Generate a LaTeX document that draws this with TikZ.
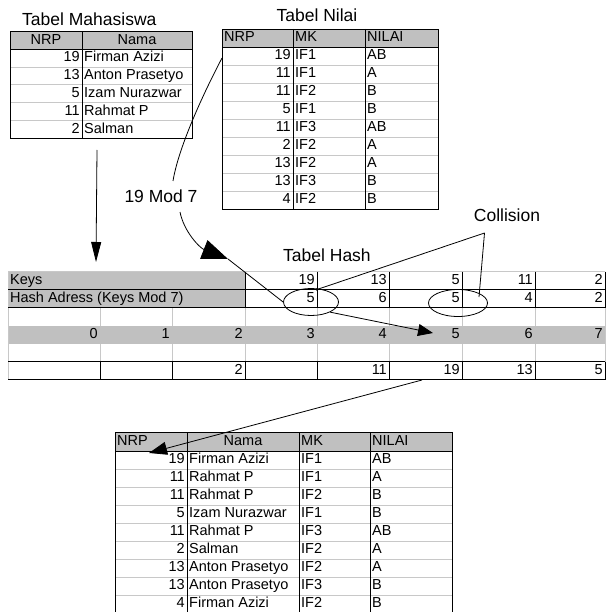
\documentclass[tikz,border=0pt]{standalone}
\usepackage{fontspec}
\setmainfont{Liberation Sans}
\usetikzlibrary{arrows.meta, shapes.geometric}

\definecolor{silver}{HTML}{C0C0C0}
\definecolor{gridgray}{HTML}{C8C8C8}

\tikzset{
    cell/.style={font=\fontsize{14.5}{16}\selectfont, inner sep=0pt, text height=10.2pt, text depth=2.9pt},
    title/.style={font=\fontsize{17.5}{19}\selectfont, inner sep=0pt},
    thinline/.style={draw=gridgray, line width=0.8pt},
    darkline/.style={draw=black, line width=0.8pt},
    link/.style={line width=0.8pt},
    ring/.style={ellipse, draw, line width=0.8pt, inner sep=0pt}
}

\begin{document}
\begin{tikzpicture}[x=1pt, y=-1pt]
    \useasboundingbox (0,0) rectangle (606,612);
    \clip (0,0) rectangle (606,612);

    % Tabel Mahasiswa
    \node[title, anchor=west] (mhs-title) at (22,19) {Tabel Mahasiswa};
    \fill[silver] (10,31.5) rectangle (192,49.3);
    \foreach \k in {1,...,4}
        \draw[thinline] (10,{49.3+17.8*\k}) -- (192,{49.3+17.8*\k});
    \draw[darkline] (10,31.5) rectangle (192,138.3);
    \draw[darkline] (10,49.3) -- (192,49.3) (82,31.5) -- (82,138.3);
    \node[cell] (mhs-h1) at (46,40.4) {NRP};
    \node[cell] (mhs-h2) at (137,40.4) {Nama};
    \foreach \nrp/\nama [count=\i] in {19/Firman Azizi, 13/Anton Prasetyo, 5/Izam Nurazwar, 11/Rahmat P, 2/Salman} {
        \node[cell, anchor=east] (mhs-\i-nrp) at (80,{40.4+17.8*\i}) {\nrp};
        \node[cell, anchor=west] (mhs-\i-nama) at (84,{40.4+17.8*\i}) {\nama};
    }

    % Tabel Nilai
    \node[title] (nil-title) at (317,15) {Tabel Nilai};
    \fill[silver] (222,29) rectangle (438,47);
    \foreach \k in {1,...,8}
        \draw[thinline] (222,{47+18*\k}) -- (438,{47+18*\k});
    \draw[darkline] (222,29) rectangle (438,209);
    \draw[darkline] (222,47) -- (438,47) (293,29) -- (293,209) (365,29) -- (365,209);
    \node[cell, anchor=west] (nil-h1) at (224,38) {NRP};
    \node[cell, anchor=west] (nil-h2) at (295,38) {MK};
    \node[cell, anchor=west] (nil-h3) at (367,38) {NILAI};
    \foreach \nrp/\mk/\nilai [count=\i] in {19/IF1/AB, 11/IF1/A, 11/IF2/B, 5/IF1/B, 11/IF3/AB, 2/IF2/A, 13/IF2/A, 13/IF3/B, 4/IF2/B} {
        \node[cell, anchor=east] (nil-\i-nrp) at (291,{38+18*\i}) {\nrp};
        \node[cell, anchor=west] (nil-\i-mk) at (295,{38+18*\i}) {\mk};
        \node[cell, anchor=west] (nil-\i-nilai) at (367,{38+18*\i}) {\nilai};
    }

    % Tabel Hash
    \node[title, anchor=west] (hash-title) at (283,255) {Tabel Hash};
    \fill[silver] (8,271.5) rectangle (245,307.5);
    \fill[silver] (8,325.5) rectangle (605,343.5);
    \draw[thinline] (8,271.5) -- (605,271.5) (8,271.5) -- (8,379.5) (605,307.5) -- (605,361.5);
    \foreach \x in {100,172,245,317,389,462,535}
        \draw[thinline] (\x,307.5) -- (\x,325.5) (\x,343.5) -- (\x,361.5);
    \draw[darkline] (8,289.5) -- (605,289.5) (8,307.5) -- (605,307.5);
    \foreach \x in {245,317,389,462,535,605}
        \draw[darkline] (\x,271.5) -- (\x,307.5);
    \draw[darkline] (8,361.5) -- (605,361.5) (8,379.5) -- (605,379.5);
    \foreach \x in {100,172,245,317,389,462,535,605}
        \draw[darkline] (\x,361.5) -- (\x,379.5);

    \node[cell, anchor=west] (keys) at (10,280.5) {Keys};
    \node[cell, anchor=west] (hash-adr) at (10,298.5) {Hash Adress (Keys Mod 7)};
    \foreach \key/\adr/\x [count=\i] in {19/5/317, 13/6/389, 5/5/462, 11/4/535, 2/2/605} {
        \node[cell, anchor=east] (key-\i) at (\x-2,280.5) {\key};
        \node[cell, anchor=east] (adr-\i) at (\x-2,298.5) {\adr};
    }
    \foreach \n/\x in {0/100, 1/172, 2/245, 3/317, 4/389, 5/462, 6/535, 7/605}
        \node[cell, anchor=east] (idx-\n) at (\x-2,334.5) {\n};
    \foreach \v/\x in {2/245, 11/389, 19/462, 13/535, 5/605}
        \node[cell, anchor=east] (slot-\v) at (\x-2,370.5) {\v};

    % Collision marks
    \node[ring, minimum width=55pt, minimum height=27pt] (ring-a) at (311,302) {};
    \node[ring, minimum width=59pt, minimum height=27pt] (ring-b) at (458,303) {};
    \node[title] (collision) at (507,215) {Collision};
    \coordinate (coll-tip) at (484.5,233);
    \coordinate (coll-a) at (317,289.5);
    \coordinate (coll-b) at (479,297);
    \draw[link] (coll-tip) -- (coll-a);
    \draw[link] (coll-tip) -- (coll-b);
    \fill (coll-a) circle (1.4pt);

    % 19 Mod 7
    \node[title] (mod) at (161,196) {19 Mod 7};
    \coordinate (nil-hook) at (222,58);
    \coordinate (mod-top) at (173,181);
    \coordinate (mod-bot) at (180,212);
    \coordinate (mod-tip) at (228,259);
    \draw[link] (nil-hook) .. controls (200,100) and (178,150) .. (mod-top);
    \draw[link, -{Triangle[length=26pt, width=20pt]}] (mod-bot) .. controls (184,232) and (200,248) .. (mod-tip);
    \draw[link] (mod-tip) -- (ring-a.west);

    % Probe to next free slot
    \coordinate (slot-tip) at (433,333);
    \draw[link, -{Triangle[length=15pt, width=12pt]}] (ring-a.-28) -- (slot-tip);

    % Mahasiswa down to hash table
    \coordinate (mhs-out) at (97,150);
    \coordinate (hash-in) at (96,262);
    \draw[link, -{Triangle[length=20pt, width=10pt]}] (mhs-out) -- (hash-in);

    % Joined table
    \fill[silver] (115,432) rectangle (452,451);
    \foreach \k in {1,...,8}
        \draw[thinline] (115,{451+18*\k}) -- (452,{451+18*\k});
    \draw[darkline] (115,432) rectangle (452,613);
    \draw[darkline] (115,451) -- (452,451) (187,432) -- (187,613) (299,432) -- (299,613) (370,432) -- (370,613);
    \node[cell, anchor=west] (res-h1) at (117,441.5) {NRP};
    \node[cell] (res-h2) at (243,441.5) {Nama};
    \node[cell, anchor=west] (res-h3) at (301,441.5) {MK};
    \node[cell, anchor=west] (res-h4) at (372,441.5) {NILAI};
    \foreach \nrp/\nama/\mk/\nilai [count=\i] in {19/Firman Azizi/IF1/AB, 11/Rahmat P/IF1/A, 11/Rahmat P/IF2/B, 5/Izam Nurazwar/IF1/B, 11/Rahmat P/IF3/AB, 2/Salman/IF2/A, 13/Anton Prasetyo/IF2/A, 13/Anton Prasetyo/IF3/B, 4/Firman Azizi/IF2/B} {
        \node[cell, anchor=east] (res-\i-nrp) at (185,{442+18*\i}) {\nrp};
        \node[cell, anchor=west] (res-\i-nama) at (189,{442+18*\i}) {\nama};
        \node[cell, anchor=west] (res-\i-mk) at (301,{442+18*\i}) {\mk};
        \node[cell, anchor=west] (res-\i-nilai) at (372,{442+18*\i}) {\nilai};
    }

    % Slot 5 to joined table
    \coordinate (slot-out) at (422,380);
    \coordinate (res-in) at (149,453);
    \draw[link, -{Triangle[length=18pt, width=13pt]}] (slot-out) -- (res-in);

\end{tikzpicture}
\end{document}
